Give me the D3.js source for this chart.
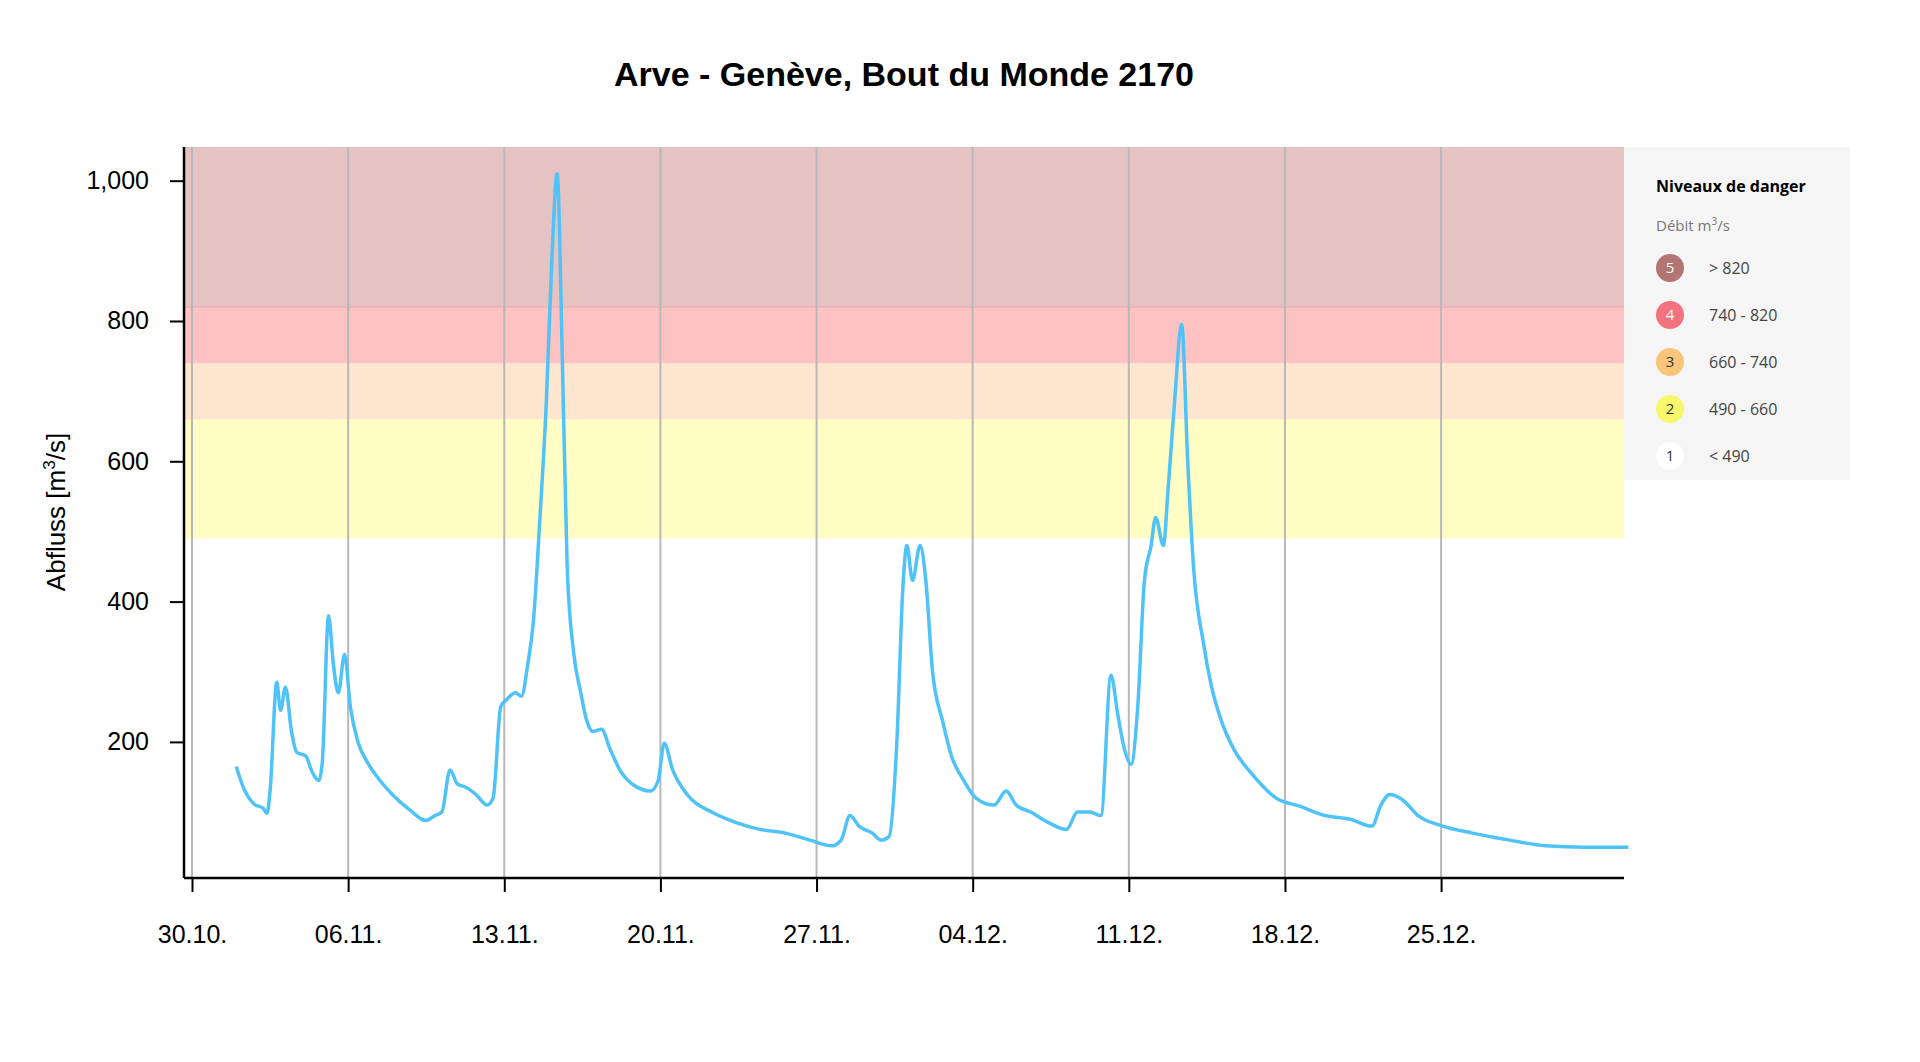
<!DOCTYPE html><html><head><meta charset="utf-8"><script src="https://cdn.jsdelivr.net/npm/d3@7"></script>
<style>body{margin:0;background:#fff}</style></head><body><svg id="c" width="1920" height="1062"></svg><script>
const dayOffsets=[1.98,2.37,2.76,3.2,3.36,3.5,3.8,3.97,4.19,4.46,4.7,5.1,5.35,5.68,5.84,6.12,6.34,6.56,6.84,7.1,7.44,7.88,8.43,8.98,9.8,10.47,10.9,11.2,11.57,11.9,12.3,12.73,13.23,13.5,13.84,14.1,14.5,14.77,15.05,15.3,15.6,15.88,16.15,16.37,16.6,16.82,17.1,17.43,17.7,17.97,18.36,18.74,19.18,19.73,20.56,20.9,21.17,21.55,22.2,23.3,24.4,25.5,26.6,27.7,28.7,29.1,29.5,29.9,30.5,30.9,31.25,31.6,31.87,32.05,32.3,32.64,32.9,33.2,33.65,34.05,34.6,35.15,35.96,36.5,36.95,37.6,38.4,39.2,39.7,40.26,40.75,41.2,41.5,41.8,42.1,42.4,42.7,43,43.2,43.55,43.76,44.04,44.37,44.64,44.9,45.35,45.7,46.15,46.7,47.5,48.6,49.7,50.8,51.9,52.9,53.3,53.7,54.25,54.97,56.07,57.4,59.07,60.7,62.4,64.4];
const flow=[165,130,112,105,98,130,285,245,278,215,185,180,160,145,170,380,310,270,325,250,200,170,145,125,102,88,95,100,160,140,135,125,110,120,250,260,270,265,310,370,520,680,900,1010,750,450,330,270,230,215,218,190,160,140,130,145,198,160,125,100,85,75,70,60,52,60,95,80,70,60,65,200,420,480,430,480,430,300,230,180,145,120,110,130,110,100,85,75,100,100,95,295,240,190,168,250,430,480,520,480,560,680,795,600,450,340,280,230,190,155,120,108,95,90,80,110,125,118,95,80,70,60,52,50,50];
const tickLabels=["30.10.","06.11.","13.11.","20.11.","27.11.","04.12.","11.12.","18.12.","25.12."];
const yTicks=[200,400,600,800,1000];
const bandLo=[490,660,740,820];
const bandHi=[660,740,820,1048];
const bandColors=["#fffdc4","#fde5cf","#ffc2c2","#e6c3c3"];
const legendNums=["5","4","3","2","1"];
const legendLabels=["> 820","740 - 820","660 - 740","490 - 660","< 490"];
const legendColors=["#b57474","#f2727f","#f8c57a","#f6f76a","#ffffff"];
const legendTextColors=["#fff","#fff","#333","#333","#333"];

const svg=d3.select("#c");
const L=184,R=1624,T=147,B=878;
const x=d3.scaleLinear().domain([0,64.2]).range([192,1624]);
const y=d3.scaleLinear().domain([6,1048]).range([B,T]);
const F="Liberation Sans, Arial, sans-serif";
bandLo.forEach((lo,i)=>svg.append("rect").attr("x",L).attr("width",R-L).attr("y",y(bandHi[i])).attr("height",y(lo)-y(bandHi[i])).attr("fill",bandColors[i]));
svg.append("line").attr("x1",L).attr("x2",R).attr("y1",y(820)).attr("y2",y(820)).attr("stroke","#e8a8a8").attr("stroke-width",1);
tickLabels.forEach((t,i)=>svg.append("line").attr("x1",x(i*7)).attr("x2",x(i*7)).attr("y1",T).attr("y2",B).attr("stroke","#b8b8b8").attr("stroke-width",2));
const line=d3.line().x((d,i)=>x(dayOffsets[i])).y(d=>y(d)).curve(d3.curveMonotoneX);
svg.append("path").datum(flow).attr("d",line).attr("fill","none").attr("stroke","#4fc3f7").attr("stroke-width",3.5);
const xa=svg.append("g").attr("transform",`translate(0,${B})`).call(d3.axisBottom(x).tickValues(tickLabels.map((t,i)=>i*7)).tickFormat((d,i)=>tickLabels[i]).tickSize(14).tickSizeOuter(0));
xa.select(".domain").attr("d",`M${L},0H${R}`).attr("stroke","#000").attr("stroke-width",2.5);
xa.selectAll(".tick line").attr("stroke","#000").attr("stroke-width",2);
xa.selectAll("text").attr("font-family",F).attr("font-size",25).attr("fill","#000").attr("dy","1.9em");
const ya=svg.append("g").attr("transform",`translate(${L},0)`).call(d3.axisLeft(y).tickValues(yTicks).tickSize(14).tickSizeOuter(0));
ya.select(".domain").attr("d",`M0,${T}V${B}`).attr("stroke","#000").attr("stroke-width",2.5);
ya.selectAll(".tick line").attr("stroke","#000").attr("stroke-width",2);
ya.selectAll("text").attr("font-family",F).attr("font-size",25).attr("fill","#000").attr("x",-35);
svg.append("text").attr("x",904).attr("y",86).attr("text-anchor","middle").attr("font-family",F).attr("font-weight","bold").attr("font-size",34).text("Arve - Genève, Bout du Monde 2170");
const yl=svg.append("text").attr("transform","translate(65,512) rotate(-90)").attr("text-anchor","middle").attr("font-family",F).attr("font-size",26);
yl.append("tspan").text("Abfluss [m");yl.append("tspan").attr("font-size",17).attr("dy",-10).text("3");yl.append("tspan").attr("dy",10).text("/s]");
svg.append("rect").attr("x",R).attr("y",T).attr("width",226).attr("height",333).attr("fill","#f5f5f5");
const LF="Open Sans, Noto Sans, sans-serif";
svg.append("text").attr("x",1656).attr("y",192).attr("font-family",LF).attr("font-weight","bold").attr("font-size",16).text("Niveaux de danger");
const dt=svg.append("text").attr("x",1656).attr("y",231).attr("font-family",LF).attr("font-size",15).attr("fill","#777");
dt.append("tspan").text("Débit m");dt.append("tspan").attr("font-size",10).attr("dy",-6).text("3");dt.append("tspan").attr("dy",6).text("/s");
legendNums.forEach((n,i)=>{const cy=268+i*47;
svg.append("circle").attr("cx",1670).attr("cy",cy).attr("r",14).attr("fill",legendColors[i]);
svg.append("text").attr("x",1670).attr("y",cy+5).attr("text-anchor","middle").attr("font-family",LF).attr("font-size",15).attr("fill",legendTextColors[i]).text(n);
svg.append("text").attr("x",1709).attr("y",cy+6).attr("font-family",LF).attr("font-size",16).attr("fill","#444").text(legendLabels[i]);});
</script></body></html>
